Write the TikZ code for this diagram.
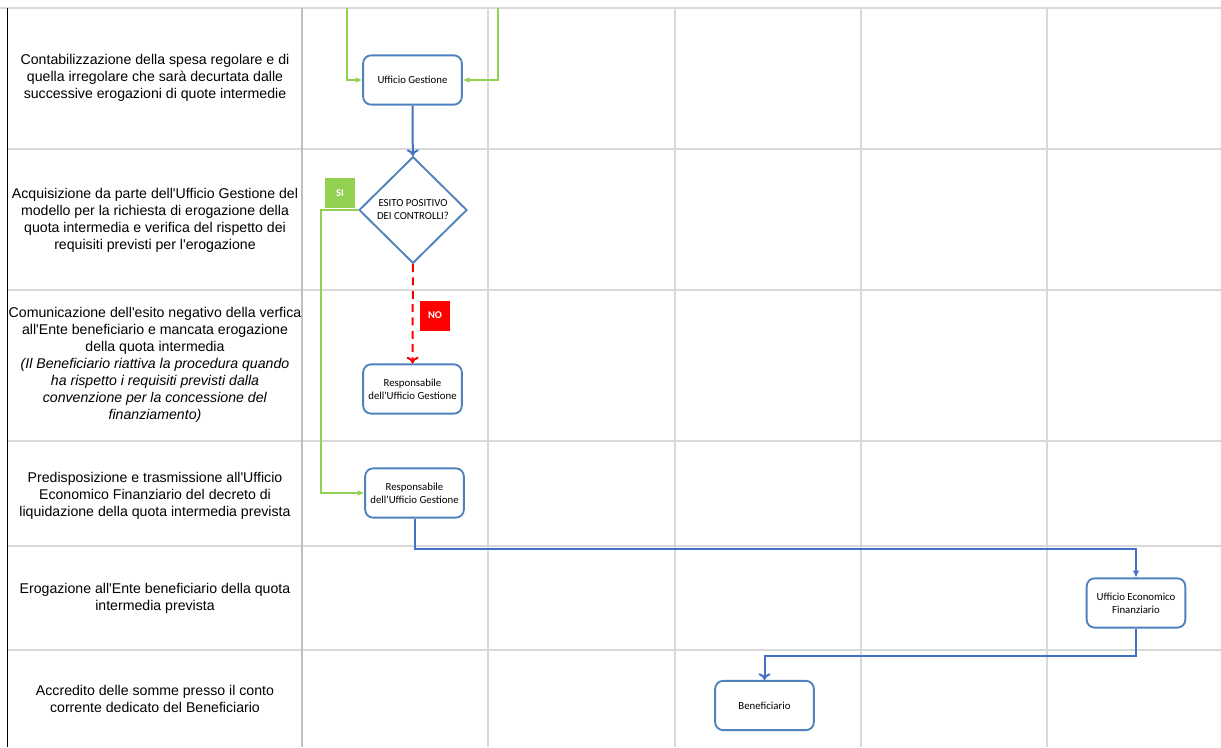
\documentclass[tikz,border=0pt]{standalone}
\usepackage{fontspec}
\setmainfont{Liberation Sans}[Ligatures=TeXOff]
\newfontfamily\boxfont{Carlito}
\usetikzlibrary{shapes.geometric,arrows.meta}
\definecolor{boxblue}{RGB}{79,129,189}
\definecolor{lineblue}{RGB}{68,114,196}
\definecolor{sigreen}{RGB}{146,208,80}
\definecolor{gridgray}{RGB}{217,217,217}
\definecolor{bargray}{RGB}{191,191,191}
\begin{document}
\begin{tikzpicture}[x=0.75pt,y=-0.75pt]
		\tikzset{box/.style = {draw=boxblue, line width=1.4pt, rounded corners=6pt, fill=white, minimum width=74pt, minimum height=37pt, align=center, font=\boxfont\fontsize{8.1}{9.75}\selectfont}}
		\tikzset{decision/.style = {diamond, draw=boxblue, line width=1.4pt, fill=white, minimum width=81pt, minimum height=80pt, inner sep=0pt, align=center, font=\boxfont\fontsize{8.1}{9.75}\selectfont}}
		\tikzset{flow/.style = {draw=lineblue, line width=1.5pt}}
		\tikzset{siline/.style = {draw=sigreen, line width=1.4pt, -{Latex[length=5pt,width=4.5pt]}}}
		\tikzset{noline/.style = {draw=red, line width=1.5pt, dash pattern=on 6pt off 4pt, -{To[length=5pt,width=9pt]}}}
		\tikzset{tagbox/.style = {minimum width=22.5pt, minimum height=22.5pt, inner sep=0pt, text=white, font=\boxfont\bfseries\fontsize{7.8}{9}\selectfont}}
		\tikzset{rowtext/.style = {align=center, font=\fontsize{10.6}{12.75}\selectfont}}
		\useasboundingbox (0,0) rectangle (1221,747);
		% Grid
		\draw[gridgray, line width=0.8pt] (0,8) -- (1221,8);
		\foreach \y in {149,290,441,546,650}
			\draw[gridgray, line width=0.8pt] (8,\y) -- (1221,\y);
		\foreach \x in {488,675,861,1047}
			\draw[gridgray, line width=0.8pt] (\x,8) -- (\x,747);
		\draw[bargray, line width=2.2pt] (302,8) -- (302,747);
		\draw[black, line width=1.2pt] (7.5,8) -- (7.5,747);
		% Phases
		\node[rowtext] (r1) at (155,78) {Contabilizzazione della spesa regolare e di\\quella irregolare che sarà decurtata dalle\\successive erogazioni di quote intermedie};
		\node[rowtext] (r2) at (155,220) {Acquisizione da parte dell'Ufficio Gestione del\\modello per la richiesta di erogazione della\\quota intermedia e verifica del rispetto dei\\requisiti previsti per l'erogazione};
		\node[rowtext] (r3) at (155,365) {Comunicazione dell'esito negativo della verfica\\all'Ente beneficiario e mancata erogazione\\della quota intermedia\\\textit{(Il Beneficiario riattiva la procedura quando}\\\textit{ha rispetto i requisiti previsti dalla}\\\textit{convenzione per la concessione del}\\\textit{finanziamento)}};
		\node[rowtext] (r4) at (155,496) {Predisposizione e trasmissione all'Ufficio\\Economico Finanziario del decreto di\\liquidazione della quota intermedia prevista};
		\node[rowtext] (r5) at (155,598) {Erogazione all'Ente beneficiario della quota\\intermedia prevista};
		\node[rowtext] (r6) at (155,699) {Accredito delle somme presso il conto\\corrente dedicato del Beneficiario};
		% Flow
		\node[box] (ug) at (412.5,80) {Ufficio Gestione};
		\node[decision] (esito) at (413,210) {ESITO POSITIVO\\DEI CONTROLLI?};
		\node[box] (resp1) at (412.5,389) {Responsabile\\dell'Ufficio Gestione};
		\node[box] (resp2) at (414.5,493) {Responsabile\\dell'Ufficio Gestione};
		\node[box] (uef) at (1136,603) {Ufficio Economico\\Finanziario};
		\node[box] (benef) at (764.5,705.5) {Beneficiario};
		\node[tagbox, fill=sigreen] (si) at (340,193) {SI};
		\node[tagbox, fill=red] (no) at (435,315.5) {NO};
		\coordinate (in1) at (347,8);
		\coordinate (in2) at (498,8);
		\draw[siline] (in1) |- (ug.west);
		\draw[siline] (in2) |- (ug.east);
		\draw[flow, -{To[length=5pt,width=9pt]}] (ug) -- (esito);
		\draw[noline] (esito) -- (resp1);
		\draw[siline] (esito.west) -- ++(-37,0) |- (resp2.west);
		\draw[flow, -{Latex[length=5pt,width=5pt]}] (resp2.south) -- ++(0,30) -| (uef.north);
		\draw[flow, -{To[length=5pt,width=9pt]}] (uef.south) -- ++(0,27) -| (benef.north);
	\end{tikzpicture}
\end{document}
